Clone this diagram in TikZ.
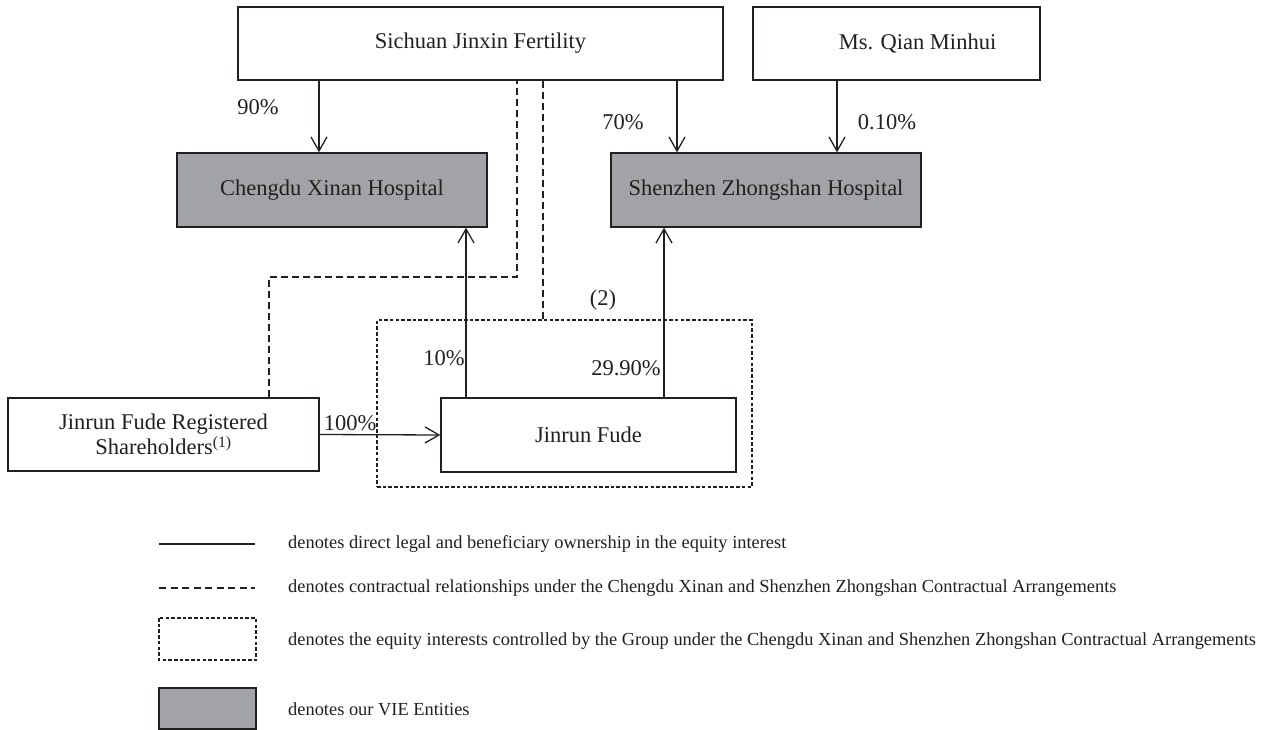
\documentclass[tikz,border=0pt]{standalone}
\usepackage{fontspec}
\setmainfont{Liberation Serif}
\usetikzlibrary{arrows.meta}
\definecolor{ink}{HTML}{231F20}
\definecolor{viegray}{HTML}{A2A3A7}
\tikzset{
  box/.style={draw=ink, line width=1.4pt, rectangle, inner sep=0pt, text=ink,
    font=\fontsize{22.5}{26}\selectfont, align=center},
  viebox/.style={box, fill=viegray},
  own/.style={draw=ink, line width=1.3pt, -{Straight Barb[length=14pt,width=16pt,line width=1.3pt]}},
  ownplain/.style={draw=ink, line width=1.3pt},
  contract/.style={draw=ink, line width=1.4pt, dash pattern=on 7pt off 4pt},
  groupbox/.style={draw=ink, line width=1.3pt, dash pattern=on 3.5pt off 2.2pt},
  pct/.style={text=ink, font=\fontsize{22.5}{26}\selectfont, inner sep=0pt},
  legtext/.style={text=ink, font=\fontsize{18.4}{22}\selectfont, anchor=west, inner sep=0pt}
}
\begin{document}
\begin{tikzpicture}[x=1pt,y=-1pt]
\useasboundingbox (0,0) rectangle (1266,730);
\fill[white] (0,0) rectangle (1266,730);

% nodes
\node[box, minimum width=485pt, minimum height=73pt] (sich) at (480.5,43.5) {Sichuan Jinxin Fertility};
\node[box, minimum width=287pt, minimum height=73pt] (qian) at (896.5,43.5) {\hspace*{42pt}Ms. Qian Minhui};
\node[viebox, minimum width=310pt, minimum height=74pt] (cheng) at (332,190) {Chengdu Xinan Hospital};
\node[viebox, minimum width=310pt, minimum height=74pt] (shen) at (766,190) {Shenzhen Zhongshan Hospital};
\node[box, minimum width=311pt, minimum height=73pt] (share) at (163.5,434.5) {Jinrun Fude Registered\\[-1pt]Shareholders\textsuperscript{(1)}};
\node[box, minimum width=295pt, minimum height=74pt] (jinrun) at (588.5,435) {Jinrun Fude};
\node[groupbox, minimum width=375pt, minimum height=167pt, inner sep=0pt] (grp) at (564.5,403.5) {};
\node[pct] (lbl2) at (603,300) {(2)};

% x positions of connectors
\coordinate (xa) at (319,0);
\coordinate (xb) at (677,0);
\coordinate (xc) at (837,0);
\coordinate (xd) at (466,0);
\coordinate (xe) at (664,0);
\coordinate (xf) at (269,0);
\coordinate (xg) at (517,0);
\coordinate (xh) at (543,0);
\coordinate (ya) at (0,277);

% ownership arrows
\draw[own] (sich.south -| xa) -- (cheng.north -| xa);
\draw[own] (sich.south -| xb) -- (shen.north -| xb);
\draw[own] (qian.south -| xc) -- (shen.north -| xc);
\draw[own] (jinrun.north -| xd) -- (cheng.south -| xd);
\draw[own] (jinrun.north -| xe) -- (shen.south -| xe);
\draw[own] (share.east) -- (jinrun.west);

% contractual lines
\draw[contract] (share.north -| xf) -- (xf |- ya) -- (xg |- ya) -- (sich.south -| xg);
\draw[contract] (sich.south -| xh) -- (grp.north -| xh);

% percentages
\node[pct] at (258,107) {90\%};
\node[pct] at (623,122) {70\%};
\node[pct] at (887,122) {0.10\%};
\node[pct] at (444,358) {10\%};
\node[pct] at (626,368) {29.90\%};
\node[pct] at (350,423) {100\%};

% legend
\coordinate (l1a) at (159,544); \coordinate (l1b) at (255,544);
\draw[ownplain] (l1a) -- (l1b);
\node[legtext] at (288,544) {denotes direct legal and beneficiary ownership in the equity interest};
\coordinate (l2a) at (159,588); \coordinate (l2b) at (255,588);
\draw[draw=ink, line width=1.3pt, dash pattern=on 7pt off 4.5pt] (l2a) -- (l2b);
\node[legtext] at (288,588) {denotes contractual relationships under the Chengdu Xinan and Shenzhen Zhongshan Contractual Arrangements};
\draw[groupbox] (159,618) rectangle (256,660);
\node[legtext] at (288,641) {denotes the equity interests controlled by the Group under the Chengdu Xinan and Shenzhen Zhongshan Contractual Arrangements};
\draw[draw=ink, line width=1.4pt, fill=viegray] (159,688) rectangle (256,729);
\node[legtext] at (288,709) {denotes our VIE Entities};
\end{tikzpicture}
\end{document}
